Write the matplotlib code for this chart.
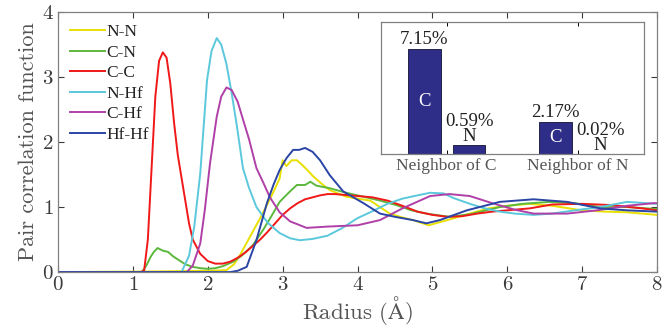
import matplotlib
matplotlib.use("Agg")
import matplotlib.pyplot as plt

# ── Data ──────────────────────────────────────────────────────────────────────

r_cc = [0, 1.10, 1.15, 1.20, 1.25, 1.30, 1.35, 1.40, 1.45, 1.50, 1.55, 1.60, 1.65, 1.70,
        1.75, 1.80, 1.90, 2.00, 2.10, 2.20, 2.30, 2.40, 2.50, 2.60, 2.70, 2.80, 2.90,
        3.00, 3.10, 3.20, 3.30, 3.40, 3.50, 3.60, 3.70, 3.80, 3.90, 4.00, 4.20, 4.40,
        4.60, 4.80, 5.00, 5.20, 5.40, 5.60, 5.80, 6.00, 6.30, 6.60, 7.00, 7.40, 7.80, 8.00]
g_cc = [0, 0, 0.02, 0.50, 1.60, 2.70, 3.25, 3.38, 3.30, 2.90, 2.30, 1.80, 1.45, 1.10,
        0.75, 0.50, 0.28, 0.17, 0.13, 0.13, 0.16, 0.22, 0.30, 0.40, 0.50, 0.62, 0.75,
        0.88, 0.98, 1.06, 1.12, 1.15, 1.18, 1.20, 1.20, 1.19, 1.18, 1.17, 1.15, 1.10,
        1.02, 0.93, 0.88, 0.85, 0.86, 0.90, 0.93, 0.95, 0.98, 1.04, 1.05, 1.03, 0.98, 0.95]

r_cn = [0, 1.12, 1.18, 1.24, 1.28, 1.33, 1.40, 1.47, 1.54, 1.62, 1.70, 1.80, 1.90, 2.00,
        2.10, 2.20, 2.34, 2.45, 2.60, 2.74, 2.85, 2.96, 3.08, 3.19, 3.30, 3.37, 3.45,
        3.63, 3.85, 4.08, 4.30, 4.52, 4.72, 4.92, 5.23, 5.50, 5.90, 6.20, 6.57, 6.90,
        7.24, 7.60, 8.00]
g_cn = [0, 0, 0.10, 0.24, 0.31, 0.37, 0.33, 0.31, 0.24, 0.18, 0.12, 0.08, 0.06, 0.05,
        0.06, 0.09, 0.16, 0.25, 0.41, 0.65, 0.86, 1.08, 1.22, 1.34, 1.34, 1.39, 1.33,
        1.29, 1.22, 1.16, 1.10, 1.03, 0.95, 0.90, 0.85, 0.89, 1.00, 1.05, 1.08, 1.06,
        1.00, 1.00, 0.97]

r_nn = [0, 1.30, 2.00, 2.25, 2.35, 2.43, 2.52, 2.60, 2.70, 2.79, 2.88, 2.96, 3.00, 3.05,
        3.12, 3.19, 3.25, 3.33, 3.41, 3.52, 3.63, 3.85, 4.00, 4.17, 4.30, 4.43, 4.60,
        4.74, 4.95, 5.20, 5.50, 5.75, 6.00, 6.30, 6.60, 7.00, 7.30, 7.60, 8.00]
g_nn = [0, 0.01, 0.02, 0.03, 0.12, 0.26, 0.45, 0.62, 0.83, 1.03, 1.24, 1.44, 1.72, 1.63,
        1.72, 1.72, 1.66, 1.57, 1.47, 1.36, 1.26, 1.16, 1.13, 1.10, 1.00, 0.90, 0.84,
        0.80, 0.72, 0.80, 0.90, 0.98, 1.02, 1.05, 1.02, 0.95, 0.93, 0.92, 0.88]

r_nhf = [0, 1.65, 1.75, 1.82, 1.90, 1.99, 2.05, 2.12, 2.18, 2.25, 2.32, 2.39, 2.47, 2.55,
         2.65, 2.80, 2.96, 3.10, 3.23, 3.40, 3.60, 3.80, 4.00, 4.17, 4.40, 4.60, 4.80,
         4.97, 5.15, 5.28, 5.50, 5.70, 5.90, 6.10, 6.35, 6.60, 6.90, 7.24, 7.60, 8.00]
g_nhf = [0, 0, 0.25, 0.70, 1.52, 2.95, 3.40, 3.60, 3.50, 3.20, 2.75, 2.24, 1.60, 1.30,
         1.00, 0.76, 0.60, 0.52, 0.49, 0.51, 0.56, 0.68, 0.83, 0.92, 1.05, 1.13, 1.18,
         1.22, 1.21, 1.14, 1.05, 0.98, 0.93, 0.90, 0.88, 0.90, 0.95, 1.00, 1.08, 1.05]

r_chf = [0, 1.72, 1.80, 1.90, 1.96, 2.03, 2.12, 2.18, 2.25, 2.32, 2.40, 2.47, 2.55, 2.65,
         2.74, 2.83, 2.96, 3.10, 3.32, 3.60, 4.00, 4.30, 4.60, 4.97, 5.23, 5.50, 5.80,
         6.10, 6.35, 6.80, 7.20, 7.60, 7.95, 8.00]
g_chf = [0, 0, 0.10, 0.44, 0.95, 1.67, 2.39, 2.70, 2.84, 2.80, 2.62, 2.35, 2.05, 1.60,
         1.38, 1.15, 0.92, 0.78, 0.68, 0.70, 0.72, 0.80, 0.98, 1.17, 1.20, 1.17, 1.06,
         0.96, 0.90, 0.90, 0.95, 1.02, 1.06, 1.06]

r_hfhf = [0, 2.30, 2.40, 2.52, 2.65, 2.79, 2.88, 2.96, 3.05, 3.14, 3.22, 3.30, 3.40, 3.50,
          3.63, 3.81, 4.08, 4.30, 4.50, 4.74, 4.92, 5.10, 5.46, 5.90, 6.35, 6.80, 7.24,
          7.60, 8.00]
g_hfhf = [0, 0, 0.02, 0.08, 0.49, 1.06, 1.35, 1.57, 1.75, 1.88, 1.88, 1.91, 1.85, 1.72,
          1.49, 1.24, 1.06, 0.90, 0.85, 0.80, 0.75, 0.80, 0.95, 1.08, 1.12, 1.08, 0.98,
          0.95, 0.93]

labels = ["N-N", "C-N", "C-C", "N-Hf", "C-Hf", "Hf-Hf"]
colors = ["#E8E000", "#5CB83C", "#F01818", "#5BC8DC", "#B040A8", "#2A45A5"]

# inset: neighbor fractions (%)
groups = ["Neighbor of C", "Neighbor of N"]
frac_c = [7.15, 2.17]
frac_n = [0.59, 0.02]

# ── Figure ────────────────────────────────────────────────────────────────────

plt.rcParams["font.family"] = ["cmr10", "DejaVu Serif"]
plt.rcParams["mathtext.fontset"] = "cm"
plt.rcParams["axes.formatter.use_mathtext"] = True

TXT = "#3a3a3a"
fig = plt.figure(figsize=(6.72, 3.31), dpi=100)
ax = fig.add_axes([0.0863, 0.178, 0.8914, 0.7855])

series = [(r_nn, g_nn), (r_cn, g_cn), (r_cc, g_cc), (r_nhf, g_nhf),
          (r_chf, g_chf), (r_hfhf, g_hfhf)]
for (r, g), lab, col in zip(series, labels, colors):
    ax.plot(r, g, color=col, lw=1.4, label=lab)

ax.set_xlim(0, 8)
ax.set_ylim(0, 4)
ax.set_xticks(range(0, 9))
ax.set_yticks(range(0, 5))
ax.tick_params(direction="in", top=True, right=True, length=4, width=0.8,
               labelsize=15, colors=TXT, pad=3)
for s in ax.spines.values():
    s.set_color("#808080")
    s.set_linewidth(0.9)
ax.set_xlabel(r"Radius ($\mathrm{\AA}$)", fontsize=16.5, color="#555555", labelpad=0)
ax.set_ylabel("Pair correlation function", fontsize=16, color="#555555", labelpad=3)

leg = ax.legend(loc="upper left", frameon=False, handlelength=2.0,
                handletextpad=0.1, labelspacing=0.25, borderaxespad=0.3,
                prop={"family": ["Liberation Serif"], "size": 12.5})
for t in leg.get_texts():
    t.set_color("#222222")

# ── Inset ─────────────────────────────────────────────────────────────────────
ins = fig.add_axes([0.567, 0.535, 0.391, 0.399])
ins.set_facecolor("white")
xpos = [1, 2]
w, off = 0.25, 0.17
bar_col = "#2E2D88"
ins.bar([x - off for x in xpos], frac_c, width=w, color=bar_col,
        edgecolor="#111133", lw=0.6)
ins.bar([x + off for x in xpos], frac_n, width=w, color=bar_col,
        edgecolor="#111133", lw=0.6)
ins.set_xlim(0.5, 2.5)
ins.set_ylim(0, 9)
ins.set_xticks(xpos)
ins.set_xticklabels(groups, family="Liberation Serif", fontsize=12.5, color="#555555")
ins.set_yticks([])
ins.tick_params(direction="in", top=True, length=3, width=0.7, pad=3)
for s in ins.spines.values():
    s.set_color("#808080")
    s.set_linewidth(0.9)

tf = {"family": "Liberation Serif", "fontsize": 13.5}
for x, v in zip(xpos, frac_c):
    ins.annotate(f"{v:.2f}%", (x - off, v), xytext=(0, 1), textcoords="offset points",
                 ha="center", va="bottom", color="#222222", **tf)
    ins.text(x - off, v / 2, "C", ha="center", va="center", color="white", **tf)
for x, v in zip(xpos, frac_n):
    ins.annotate(f"{v:.2f}%\nN", (x + off, v), xytext=(0, 0), textcoords="offset points",
                 ha="center", va="bottom", color="#222222", linespacing=0.85, **tf)

fig.savefig("out.png", dpi=100)
